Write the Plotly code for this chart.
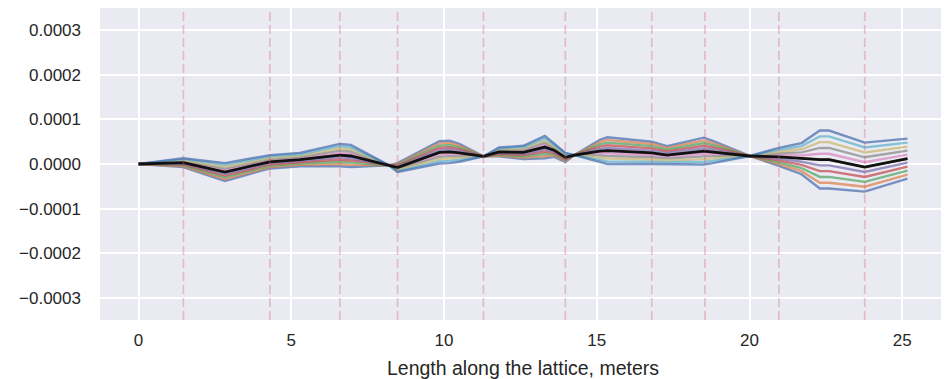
import plotly.graph_objects as go

# Positions along the lattice (meters)
s_pos = [0.00, 1.47, 2.83, 4.30, 5.28, 6.59, 6.95, 8.20, 8.48, 9.85, 10.18, 10.50,
         11.29, 11.80, 12.60, 13.30, 13.60, 13.97, 14.27, 15.10, 15.35, 16.80, 17.30,
         18.50, 18.80, 20.00, 20.96, 21.70, 22.30, 22.60, 23.77, 25.17]

# Series values in units of 1e-6
line_00 = [0, -7, -38, -10, -5, -5, -7, -3, 2, 51, 52, 45, 17, 17, 11, 13, 16, 5, 20, 54, 60, 50, 40, 59, 52, 18, -4, -23, -55, -55, -62, -33]
line_01 = [0, -5, -34, -7, -2, 0, -2, -3, 0, 46, 47, 41, 17, 19, 14, 18, 19, 7, 20, 49, 54, 45, 36, 53, 47, 18, 0, -16, -42, -42, -51, -24]
line_02 = [0, -3, -30, -4, 1, 5, 3, -3, -2, 41, 42, 37, 17, 21, 17, 23, 22, 9, 20, 44, 48, 40, 32, 47, 42, 18, 4, -9, -29, -29, -40, -15]
line_03 = [0, -1, -26, -1, 4, 10, 8, -3, -4, 36, 37, 33, 17, 23, 20, 28, 25, 11, 20, 39, 42, 35, 28, 41, 37, 18, 8, -2, -16, -16, -29, -6]
line_04 = [0, 1, -22, 2, 7, 15, 13, -3, -6, 31, 32, 29, 17, 25, 23, 33, 28, 13, 20, 34, 36, 30, 24, 35, 32, 18, 12, 5, -3, -3, -18, 3]
line_05 = [0, 3, -18, 5, 10, 20, 18, -3, -8, 26, 27, 25, 17, 27, 26, 38, 31, 15, 20, 29, 30, 25, 20, 29, 27, 18, 16, 12, 10, 10, -7, 12]
line_06 = [0, 5, -14, 8, 13, 25, 23, -3, -10, 21, 22, 21, 17, 29, 29, 43, 34, 17, 20, 24, 24, 20, 16, 23, 22, 18, 20, 19, 23, 23, 4, 21]
line_07 = [0, 7, -10, 11, 16, 30, 28, -3, -12, 16, 17, 17, 17, 31, 32, 48, 37, 19, 20, 19, 18, 15, 12, 17, 17, 18, 24, 26, 36, 36, 15, 30]
line_08 = [0, 9, -6, 14, 19, 35, 33, -3, -14, 11, 12, 13, 17, 33, 35, 53, 40, 21, 20, 14, 12, 10, 8, 11, 12, 18, 28, 33, 49, 49, 26, 39]
line_09 = [0, 11, -2, 17, 22, 40, 38, -3, -16, 6, 7, 9, 17, 35, 38, 58, 43, 23, 20, 9, 6, 5, 4, 5, 7, 18, 32, 40, 62, 62, 37, 48]
line_10 = [0, 13, 2, 20, 25, 45, 43, -3, -18, 1, 2, 5, 17, 37, 41, 63, 46, 25, 20, 4, 0, 0, 0, -1, 2, 18, 36, 47, 75, 75, 48, 57]
nominal = [0, 3, -18, 5, 10, 20, 18, -3, -8, 26, 27, 25, 17, 27, 26, 38, 31, 15, 20, 29, 30, 25, 20, 29, 27, 18, 16, 12, 10, 10, -7, 12]

unit = 1e-6

# Element boundaries (dashed markers)
markers = [1.47, 4.30, 6.59, 8.48, 11.29, 13.97, 16.80, 18.54, 20.96, 23.77]

y_ticks = [-0.0003, -0.0002, -0.0001, 0.0, 0.0001, 0.0002, 0.0003]
x_ticks = [0, 5, 10, 15, 20, 25]

palette = ["#4C72B0", "#DD8452", "#55A868", "#C44E52", "#8172B3", "#937860",
           "#DA8BC3", "#8C8C8C", "#CCB974", "#64B5CD", "#4C72B0"]
series = [line_00, line_01, line_02, line_03, line_04, line_05, line_06,
          line_07, line_08, line_09, line_10]

fig = go.Figure()
for vals, col in zip(series, palette):
    fig.add_trace(go.Scatter(x=s_pos, y=[v * unit for v in vals], mode="lines",
                             line=dict(color=col, width=2.4), opacity=0.75,
                             showlegend=False, hoverinfo="skip"))
fig.add_trace(go.Scatter(x=s_pos, y=[v * unit for v in nominal], mode="lines",
                         line=dict(color="#111111", width=2.8), showlegend=False))

for m in markers:
    fig.add_shape(type="line", x0=m, x1=m, y0=0, y1=1, xref="x", yref="paper",
                  line=dict(color="rgba(205,90,100,0.32)", width=1.7, dash="9px,4px"),
                  layer="above")

font_family = "Liberation Sans, Arial, sans-serif"
# the page body adds an 8px offset, so the figure is sized to fit the window
fig.update_layout(
    width=941, height=371,
    margin=dict(l=92, r=3, t=0, b=59, autoexpand=False),
    paper_bgcolor="white", plot_bgcolor="#EAEAF2",
    font=dict(family=font_family, size=17, color="#262626"),
    xaxis=dict(range=[-1.26, 26.43], tickvals=x_ticks, showgrid=True,
               gridcolor="white", gridwidth=1.5, zeroline=False, showline=False,
               ticks="", ticklabelstandoff=8, automargin=False,
               title=dict(text="Length along the lattice, meters", font=dict(size=19.5),
                          standoff=17)),
    yaxis=dict(range=[-0.00035, 0.00035], tickvals=y_ticks, tickformat=".4f",
               showgrid=True, gridcolor="white", gridwidth=1.5, zeroline=False,
               showline=False, ticks="", ticklabelstandoff=18, automargin=False),
)

fig.write_html("out.html")
